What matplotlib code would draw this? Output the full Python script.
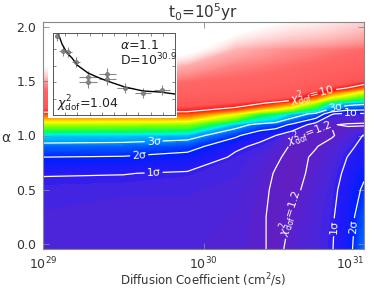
import numpy as np
import matplotlib
matplotlib.use("Agg")
import matplotlib.pyplot as plt
from matplotlib.colors import LinearSegmentedColormap, LogNorm
from matplotlib.patches import Rectangle

# chi^2_dof map: rows = alpha, columns = log10(D)
log_d = [29.0, 29.5, 29.9, 30.2, 30.35, 30.45, 30.55, 30.7, 30.8, 30.9, 31.0]
alpha = [-0.05, 0.25, 0.5, 0.65, 0.8, 0.9, 1.0, 1.1, 1.2, 1.3, 1.4, 1.5, 1.65, 1.8, 2.05]
chi2 = [
    [1.28, 1.27, 1.27, 1.25, 1.22, 1.17, 1.23, 1.28, 1.34, 1.48, 1.90],
    [1.29, 1.28, 1.28, 1.26, 1.22, 1.17, 1.205, 1.27, 1.33, 1.46, 1.80],
    [1.31, 1.30, 1.30, 1.28, 1.23, 1.18, 1.17, 1.25, 1.31, 1.42, 1.65],
    [1.36, 1.355, 1.33, 1.30, 1.25, 1.19, 1.16, 1.23, 1.29, 1.39, 1.55],
    [1.60, 1.58, 1.50, 1.32, 1.28, 1.22, 1.165, 1.215, 1.26, 1.355, 1.45],
    [1.85, 1.83, 1.72, 1.38, 1.32, 1.26, 1.185, 1.195, 1.235, 1.31, 1.40],
    [2.35, 2.30, 2.20, 1.65, 1.40, 1.35, 1.215, 1.18, 1.19, 1.25, 1.36],
    [4.5, 4.4, 4.2, 2.2, 1.85, 1.75, 1.55, 1.24, 1.205, 1.19, 1.18],
    [8.5, 8.5, 8.5, 5.5, 3.5, 3.0, 2.3, 1.85, 1.36, 1.30, 1.32],
    [18, 18, 16, 13, 10.5, 9, 7.5, 4.5, 2.6, 2.2, 2.1],
    [30, 32, 28, 25, 22, 20, 18, 11, 8, 6.5, 5],
    [70, 60, 40, 35, 32, 30, 28, 22, 18, 15, 12],
    [250, 200, 90, 55, 50, 45, 42, 36, 32, 28, 25],
    [600, 500, 300, 100, 80, 70, 62, 55, 50, 45, 40],
    [1000, 1000, 700, 350, 280, 250, 220, 200, 180, 160, 140],
]

# contour levels (chi^2_dof values) and their labels
sigma_levels = [1.35, 1.6, 2.0]
sigma_names = ["1σ", "2σ", "3σ"]
chi_levels = [1.2, 10]
chi_names = [r"$\chi^2_{\rm dof}$=1.2", r"$\chi^2_{\rm dof}$=10"]

# inset: data points and best-fit curve (arbitrary inset units)
pt_x = [0.33, 0.82, 1.23, 1.89, 2.87, 2.87, 4.43, 4.43, 5.9, 7.38, 8.93]
pt_y = [9.6, 7.8, 7.7, 6.46, 4.63, 4.0, 5.0, 4.39, 3.29, 2.68, 3.05]
pt_xerr = [0.2, 0.35, 0.35, 0.35, 0.7, 0.7, 0.7, 0.7, 0.65, 0.65, 0.65]
pt_yerr = [0.6, 0.6, 0.6, 0.6, 0.7, 0.7, 0.7, 0.7, 0.6, 0.6, 0.6]
fit_x = [0.41, 0.74, 1.15, 1.56, 1.97, 2.87, 3.62, 4.43, 5.9, 7.38, 8.77, 10.0]
fit_y = [10.0, 8.66, 7.56, 6.95, 6.1, 5.12, 4.63, 4.15, 3.41, 2.93, 2.8, 2.56]

Z = np.array(chi2)
X, Y = np.meshgrid(log_d, alpha)

stops = [
    (0.00, (0.40, 0.10, 0.65)),
    (0.07, (0.38, 0.12, 0.76)),
    (0.11, (0.28, 0.15, 0.88)),
    (0.13, (0.15, 0.10, 0.96)),
    (0.20, (0.00, 0.12, 1.00)),
    (0.30, (0.00, 0.55, 1.00)),
    (0.40, (0.00, 0.95, 0.95)),
    (0.50, (0.00, 1.00, 0.35)),
    (0.62, (0.50, 1.00, 0.00)),
    (0.75, (1.00, 1.00, 0.00)),
    (0.87, (1.00, 0.55, 0.00)),
    (1.00, (1.00, 0.05, 0.05)),
    (1.15, (1.00, 0.33, 0.33)),
    (1.60, (1.00, 0.40, 0.40)),
    (1.80, (1.00, 0.55, 0.55)),
    (2.40, (1.00, 1.00, 1.00)),
]
cmap = LinearSegmentedColormap.from_list("chi", [(p / 2.4, c) for p, c in stops])
cmap.set_over("white")

fig = plt.figure(figsize=(3.74, 2.88), dpi=100)
ax = fig.add_axes([43 / 374, 1 - 249 / 288, 321 / 374, 227 / 288])

ax.contourf(X, Y, Z, levels=np.logspace(0, 3.05, 300), cmap=cmap,
            norm=LogNorm(1, 10 ** 2.4), extend="both")

lab_pos = {
    1.35: [(29.69, 0.63), (30.92, 1.23), (30.83, 0.15)],
    1.6: [(29.6, 0.81), (30.96, 0.15)],
    2.0: [(29.69, 0.94), (30.82, 1.27)],
    1.2: [(30.66, 1.0), (30.55, 0.27)],
    10: [(30.68, 1.37)],
}
for lev, name in zip(sigma_levels + chi_levels, sigma_names + chi_names):
    cs = ax.contour(X, Y, Z, levels=[lev], colors="white", linewidths=0.9)
    ax.clabel(cs, fmt={lev: name}, fontsize=8, inline=True,
              inline_spacing=2, manual=lab_pos[lev])

ax.set_xlim(29, 31)
ax.set_ylim(-0.05, 2.05)
ax.set_xticks([29, 30, 31])
ax.set_xticklabels(["$10^{29}$", "$10^{30}$", "$10^{31}$"])
ax.set_yticks([0, 0.5, 1.0, 1.5, 2.0])
ax.set_yticklabels(["0.0", "0.5", "1.0", "1.5", "2.0"])
ax.tick_params(direction="in", length=4, width=0.6, color="#888888",
               labelsize=9, labelcolor="#333333", top=True, right=True, pad=5)
ax.get_xticklabels()[-1].set_horizontalalignment("right")
ax.get_xticklabels()[-1].set_x(31.06)
for s in ax.spines.values():
    s.set_color("#888888")
    s.set_linewidth(0.8)
ax.set_xlabel("Diffusion Coefficient (cm$^2$/s)", fontsize=8.5, color="#333333")
ax.xaxis.set_label_coords(0.5, -0.1)
ax.set_ylabel("α", fontsize=10, color="#333333", rotation=0, va="center")
ax.yaxis.set_label_coords(-0.115, 0.49)
ax.set_title("t$_0$=10$^5$yr", fontsize=11, color="#333333", pad=3)

# white box behind the inset
fig.add_artist(Rectangle((48 / 374, 1 - 118 / 288), 129 / 374, 87 / 288,
                         transform=fig.transFigure, facecolor="white",
                         edgecolor="none", zorder=1))

ax_in = fig.add_axes([53 / 374, 1 - 115 / 288, 122 / 374, 82 / 288])
ax_in.set_zorder(2)
ax_in.errorbar(pt_x, pt_y, xerr=pt_xerr, yerr=pt_yerr, fmt="o", ms=2.5,
               mfc="none", mec="#777777", ecolor="#888888", elinewidth=0.8, capsize=0)
ax_in.plot(fit_x, fit_y, color="black", lw=1.0)
ax_in.set_xlim(0, 10)
ax_in.set_ylim(0, 10)
ax_in.set_xticks([1, 2, 3, 4, 5, 6, 7, 8, 9])
ax_in.set_yticks([2, 4, 6, 8])
ax_in.tick_params(direction="in", length=2, width=0.5, color="#555555",
                  labelleft=False, labelbottom=False, top=True, right=True)
for s in ax_in.spines.values():
    s.set_color("#555555")
    s.set_linewidth(0.7)
ax_in.text(5.5, 8.5, r"$\alpha$=1.1", fontsize=9, va="center", color="#222222")
ax_in.text(5.5, 6.7, r"D=10$^{30.9}$", fontsize=9, va="center", color="#222222")
ax_in.text(0.3, 1.4, r"$\chi^2_{\rm dof}$=1.04", fontsize=9, va="center", color="#222222")

fig.savefig("out.png", dpi=100)
